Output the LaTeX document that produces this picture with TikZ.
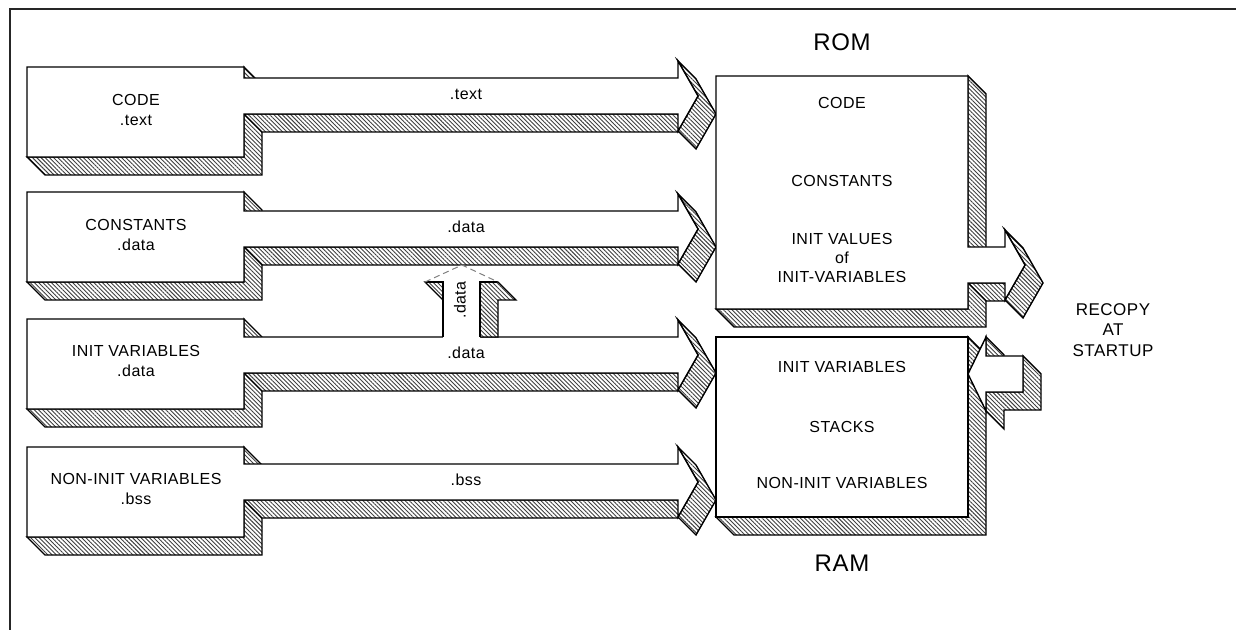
\documentclass[tikz,border=0pt]{standalone}
\usepackage{fontspec}
\setmainfont[LetterSpace=3]{Liberation Sans}
\usetikzlibrary{patterns.meta}
\colorlet{hatchgray}{black!75}
\colorlet{framegray}{black!85}
% one source section: #1 = box top, #2 = arrow top
\newcommand{\srcrow}[2]{%
  \draw[hatch] (27,#1+90) -- (45,#1+108) -- (262,#1+108) -- (262,#1+18) -- (244,#1) -- (244,#1+90) -- cycle;
  \draw[hatch] (244,#2+36) -- (262,#2+54) -- (696,#2+54) -- (678,#2+36) -- cycle;
  \draw[hatch] (678,#2-17) -- (696,#2+1) -- (716,#2+36) -- (696,#2+71) -- (678,#2+53) -- (698,#2+18) -- cycle;
  \draw[face] (27,#1) -- (244,#1) -- (244,#2) -- (678,#2) -- (678,#2-17) -- (698,#2+18) -- (678,#2+53) -- (678,#2+36) -- (244,#2+36) -- (244,#1+90) -- (27,#1+90) -- cycle;
}
\begin{document}
\begin{tikzpicture}[x=0.5pt,y=-0.5pt,
  hatch/.style={draw,line width=0.7pt,preaction={fill=white},pattern={Lines[angle=-45,distance=1.5pt,line width=0.45pt]},pattern color=hatchgray},
  face/.style={draw,line width=0.7pt,fill=white},
  lbl/.style={font=\fontsize{8}{10}\selectfont,align=center,inner sep=0pt},
  big/.style={font=\fontsize{12}{14}\selectfont,inner sep=0pt}]
\useasboundingbox (0,0) rectangle (1236,630);
\draw[line width=1.2pt,framegray] (10,630) -- (10,9) -- (1236,9);

% source sections
\srcrow{67}{78}
\srcrow{192}{211}
\srcrow{319}{337}
\srcrow{447}{464}

% upward .data arrow
\draw[hatch] (480,282) -- (498,282) -- (516,300) -- (498,300) -- (498,337) -- (480,337) -- cycle;
\draw[hatch] (425,282) -- (443,282) -- (461,300) -- (443,300) -- cycle;
\fill[white] (443,338) -- (443,282) -- (425,282) -- (462,265) -- (498,282) -- (480,282) -- (480,338) -- cycle;
\draw[line width=0.7pt] (443,337) -- (443,282) -- (425,282);
\draw[line width=0.7pt] (480,337) -- (480,282) -- (498,282);
\draw[gray,densely dashed,line width=0.5pt] (425,282) -- (462,265) -- (498,282);

% ROM with recopy arrow
\draw[hatch] (716,309) -- (734,327) -- (986,327) -- (986,94) -- (968,76) -- (968,309) -- cycle;
\draw[hatch] (968,283) -- (986,301) -- (1023,301) -- (1005,283) -- cycle;
\draw[hatch] (1005,230) -- (1023,248) -- (1043,283) -- (1023,318) -- (1005,300) -- (1025,265) -- cycle;
\draw[face] (716,76) -- (968,76) -- (968,247) -- (1005,247) -- (1005,230) -- (1025,265) -- (1005,300) -- (1005,283) -- (968,283) -- (968,309) -- (716,309) -- cycle;

% RAM with incoming arrow
\draw[hatch] (716,517) -- (734,535) -- (986,535) -- (986,355) -- (968,337) -- (968,517) -- cycle;
\draw[face] (716,337) rectangle (968,517);
\draw[hatch] (986,337) -- (1004,355) -- (1004,374) -- (986,356) -- cycle;
\draw[hatch] (1023,356) -- (1041,374) -- (1041,410) -- (1004,410) -- (1004,429) -- (986,411) -- (986,392) -- (1023,392) -- cycle;
\draw[face] (968,374) -- (986,337) -- (986,356) -- (1023,356) -- (1023,392) -- (986,392) -- (986,411) -- cycle;

% texts
\node[lbl] (codeSrc) at (136,110) {CODE\\.text};
\node[lbl] (constSrc) at (136,235) {CONSTANTS\\.data};
\node[lbl] (initSrc) at (136,361) {INIT VARIABLES\\.data};
\node[lbl] (bssSrc) at (136,489) {NON-INIT VARIABLES\\.bss};
\node[lbl] (textSec) at (466,94) {.text};
\node[lbl] (constSec) at (466,227) {.data};
\node[lbl] (initSec) at (466,353) {.data};
\node[lbl] (bssSec) at (466,480) {.bss};
\node[lbl,rotate=90] (upSec) at (460,300) {.data};
\node[big] (romLbl) at (842,42) {ROM};
\node[lbl] (romCode) at (842,103) {CODE};
\node[lbl] (romConst) at (842,181) {CONSTANTS};
\node[lbl,font=\fontsize{8}{9.6}\selectfont] (romInit) at (842,258) {INIT VALUES\\of\\INIT-VARIABLES};
\node[lbl] (ramInit) at (842,367) {INIT VARIABLES};
\node[lbl] (ramStack) at (842,427) {STACKS};
\node[lbl] (ramNon) at (842,483) {NON-INIT VARIABLES};
\node[big] (ramLbl) at (842,563) {RAM};
\node[lbl,font=\fontsize{8.5}{10.3}\selectfont] (recopy) at (1113,330) {RECOPY\\AT\\STARTUP};
\end{tikzpicture}
\end{document}
